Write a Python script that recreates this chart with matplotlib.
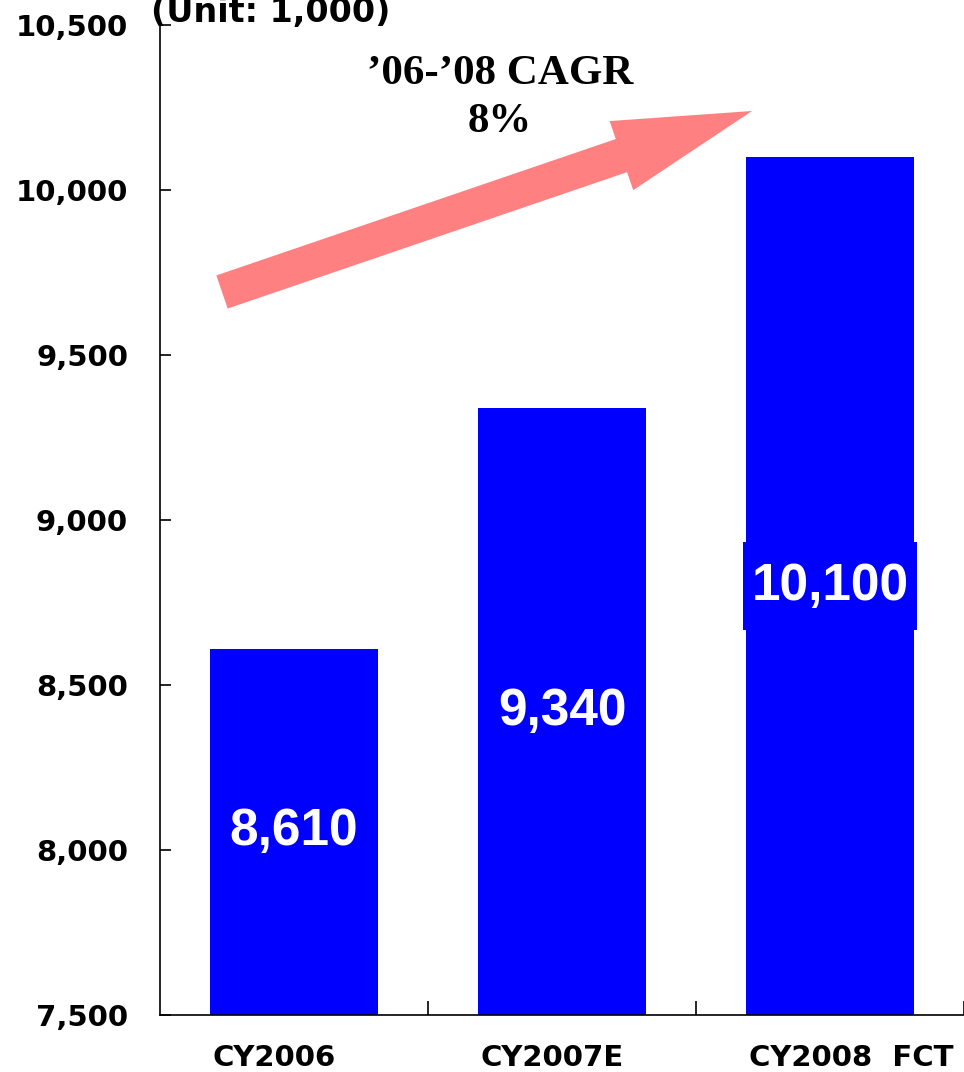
import numpy as np
import matplotlib
matplotlib.use('Agg')
import matplotlib.pyplot as plt
from matplotlib.patches import FancyArrow, Rectangle

categories = ['CY2006', 'CY2007E', 'CY2008  FCT']
values = [8610, 9340, 10100]
value_labels = ['8,610', '9,340', '10,100']
yticks = [7500, 8000, 8500, 9000, 9500, 10000, 10500]

W, H = 964, 1072
fig = plt.figure(figsize=(W / 100, H / 100), dpi=100)
ax = fig.add_axes([160 / W, 1 - 1015 / H, 804 / W, 990 / H])

x = np.arange(len(categories))
bw = 0.627
bars = ax.bar(x, np.array(values) - 7500, bottom=7500, width=bw,
              color='#0000FF', edgecolor='none')

ax.set_xlim(-0.5, 2.5)
ax.set_ylim(7500, 10500)
for s in ['top', 'right']:
    ax.spines[s].set_visible(False)
for s in ['left', 'bottom']:
    ax.spines[s].set_linewidth(1.2)
    ax.spines[s].set_color('black')

ax.set_yticks(yticks)
ax.set_yticklabels([f'{v:,}' for v in yticks], fontsize=21, fontweight='bold',
                   family='DejaVu Sans')
ax.tick_params(axis='y', direction='in', length=8, width=1.2, pad=23)

# boundaries get tick marks, labels sit on minor ticks near bar left edges
ax.set_xticks([0.5, 1.5, 2.5])
ax.set_xticklabels([])
ax.tick_params(axis='x', which='major', direction='in', length=10, width=1.2)
ax.set_xticks(x - bw / 2 + 0.01, minor=True)
ax.set_xticklabels(categories, minor=True, fontsize=21, fontweight='bold',
                   family='DejaVu Sans', ha='left')
ax.tick_params(axis='x', which='minor', length=0, pad=21)

for i, (v, lab) in enumerate(zip(values, value_labels)):
    mid = (7500 + v) / 2
    if i == 2:
        # highlight box behind the forecast value
        ax.add_patch(Rectangle((i - 0.325, mid - 133), 0.65, 266,
                               facecolor='#0000FF', edgecolor='none', zorder=3))
    ax.text(i, mid, lab, ha='center', va='center', color='white',
            fontsize=37, fontweight='bold', family='Liberation Sans', zorder=4)

# overlay in pixel units for the growth arrow and captions
ov = fig.add_axes([0, 0, 1, 1], zorder=5)
ov.set_xlim(0, W)
ov.set_ylim(H, 0)
ov.axis('off')
ov.patch.set_alpha(0)
ov.add_patch(FancyArrow(222, 292, 530, -181, width=35, head_width=73,
                        head_length=138, length_includes_head=True,
                        color='#FF8080', linewidth=0))
ov.text(500, 74, '\u201906-\u201908 CAGR', ha='center', va='center',
        fontsize=31, fontweight='bold', family='Liberation Serif')
ov.text(500, 122, '8%', ha='center', va='center',
        fontsize=31, fontweight='bold', family='Liberation Serif')
ov.text(151, 22, '(Unit: 1,000)', ha='left', va='baseline', fontsize=24,
        fontweight='bold', family='DejaVu Sans')

fig.savefig('out.png', dpi=100)
